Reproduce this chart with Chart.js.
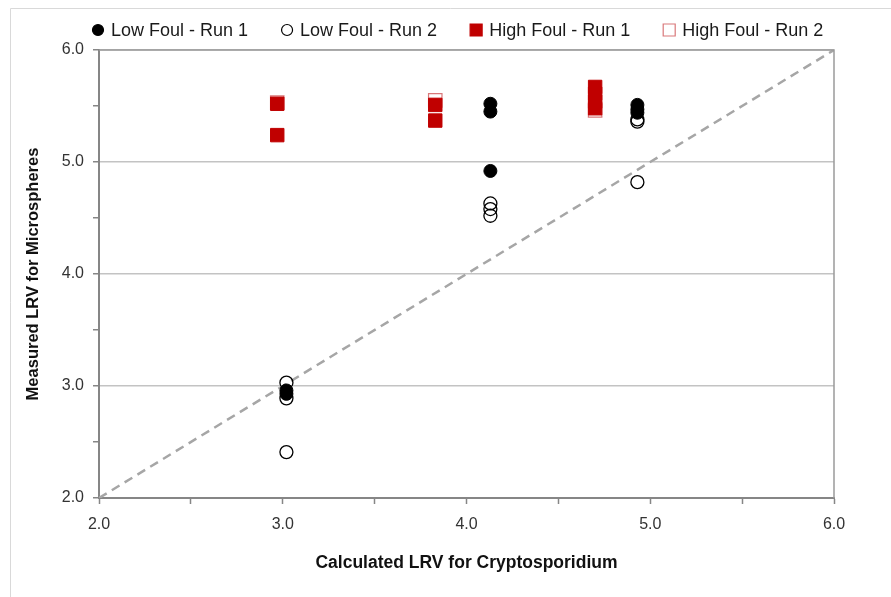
<!DOCTYPE html>
<html>
<head>
<meta charset="utf-8">
<script src="https://cdn.jsdelivr.net/npm/chart.js@4/dist/chart.umd.min.js"></script>
<style>
html,body{margin:0;padding:0;background:#fff;}
#wrap{width:891px;height:597px;position:relative;}
</style>
</head>
<body>
<div id="wrap"><canvas id="c" width="891" height="597"></canvas></div>
<script>
// ---- data ----
const seriesNames = ['Low Foul - Run 1', 'Low Foul - Run 2', 'High Foul - Run 1', 'High Foul - Run 2'];

const lowRun1X  = [3.02, 3.02, 4.13, 4.13, 4.13, 4.93, 4.93, 4.93];
const lowRun1Y  = [2.96, 2.93, 5.52, 5.45, 4.92, 5.51, 5.47, 5.44];

const lowRun2X  = [3.02, 3.02, 3.02, 4.13, 4.13, 4.13, 4.93, 4.93, 4.93];
const lowRun2Y  = [3.03, 2.89, 2.41, 4.63, 4.58, 4.52, 5.38, 5.36, 4.82];

const highRun1X = [2.97, 2.97, 3.83, 3.83, 4.70, 4.70, 4.70, 4.70];
const highRun1Y = [5.52, 5.24, 5.51, 5.37, 5.67, 5.61, 5.54, 5.48];

const highRun2X = [2.97, 3.83, 4.70];
const highRun2Y = [5.53, 5.55, 5.46];

const diagX = [2.0, 6.0];
const diagY = [2.0, 6.0];

const xTickLabels = ['2.0', '3.0', '4.0', '5.0', '6.0'];
const yTickLabels = ['2.0', '3.0', '4.0', '5.0', '6.0'];
const xTitle = 'Calculated LRV for Cryptosporidium';
const yTitle = 'Measured LRV for Microspheres';

// ---- helpers ----
const pts = (xs, ys) => xs.map((x, i) => ({x: x, y: ys[i]}));
const FONT = '"Liberation Sans", Arial, sans-serif';
const AXIS = '#868686';

function tickLabel(labels) {
  return function (v) {
    const s = Number(v).toFixed(1);
    return labels.indexOf(s) >= 0 && Number.isInteger(Number(v)) ? s : '';
  };
}

// custom legend (drawn on the canvas)
const legendPlugin = {
  id: 'customLegend',
  afterDraw(chart) {
    const ctx = chart.ctx;
    ctx.save();
    ctx.font = '18px ' + FONT;
    ctx.textBaseline = 'middle';
    ctx.textAlign = 'left';
    let mx = 98;
    const cy = 30;
    chart.data.datasets.forEach(ds => {
      if (seriesNames.indexOf(ds.label) < 0) return;
      ctx.lineWidth = 1.2;
      ctx.strokeStyle = ds.borderColor;
      ctx.fillStyle = ds.backgroundColor;
      ctx.beginPath();
      if (ds.pointStyle === 'rect') {
        ctx.rect(mx - 6, cy - 6, 12, 12);
      } else {
        ctx.arc(mx, cy, 5.5, 0, Math.PI * 2);
      }
      ctx.fill();
      ctx.stroke();
      ctx.fillStyle = '#1a1a1a';
      const tx = mx + 13;
      ctx.fillText(ds.label, tx, cy + 1);
      mx = tx + ctx.measureText(ds.label).width + 39;
    });
    ctx.restore();
  }
};

// plot frame (top/right) and outer chart frame
const framePlugin = {
  id: 'frame',
  beforeDraw(chart) {
    const ctx = chart.ctx;
    ctx.save();
    ctx.strokeStyle = '#d9d9d9';
    ctx.lineWidth = 1;
    ctx.beginPath();
    ctx.moveTo(10.5, 597);
    ctx.lineTo(10.5, 8.5);
    ctx.lineTo(891, 8.5);
    ctx.stroke();
    ctx.restore();
  },
  afterDatasetsDraw(chart) {
    const a = chart.chartArea;
    const ctx = chart.ctx;
    ctx.save();
    ctx.strokeStyle = '#9a9a9a';
    ctx.lineWidth = 1.5;
    ctx.beginPath();
    ctx.moveTo(a.left, a.top);
    ctx.lineTo(a.right, a.top);
    ctx.lineTo(a.right, a.bottom);
    ctx.stroke();
    ctx.restore();
  }
};

new Chart(document.getElementById('c'), {
  type: 'scatter',
  data: {
    datasets: [
      {
        label: seriesNames[0], data: pts(lowRun1X, lowRun1Y),
        pointStyle: 'circle', pointRadius: 6.5, pointHoverRadius: 6.5,
        backgroundColor: '#000000', borderColor: '#000000', borderWidth: 1
      },
      {
        label: seriesNames[1], data: pts(lowRun2X, lowRun2Y),
        pointStyle: 'circle', pointRadius: 6.5, pointHoverRadius: 6.5,
        backgroundColor: 'rgba(255,255,255,0)', borderColor: '#000000', borderWidth: 1.3
      },
      {
        label: seriesNames[2], data: pts(highRun1X, highRun1Y),
        pointStyle: 'rect', pointRadius: 9.5, pointHoverRadius: 9.5,
        backgroundColor: '#c00000', borderColor: '#c00000', borderWidth: 1
      },
      {
        label: seriesNames[3], data: pts(highRun2X, highRun2Y),
        pointStyle: 'rect', pointRadius: 9.5, pointHoverRadius: 9.5,
        backgroundColor: '#ffffff', borderColor: '#d9787a', borderWidth: 1.2
      },
      {
        label: '1:1', data: pts(diagX, diagY), type: 'line', showLine: true,
        pointRadius: 0, borderColor: '#a6a6a6', borderWidth: 2.5, borderDash: [9, 6],
        fill: false
      }
    ]
  },
  options: {
    responsive: false,
    animation: false,
    devicePixelRatio: 1,
    layout: {padding: {left: 10, right: 57, top: 50, bottom: 20}},
    plugins: {
      legend: {display: false},
      tooltip: {enabled: false}
    },
    scales: {
      x: {
        type: 'linear', min: 2, max: 6,
        afterFit: s => { s.height = 79; },
        ticks: {
          stepSize: 0.5, autoSkip: false, maxRotation: 0,
          callback: tickLabel(xTickLabels),
          color: '#333333', font: {family: FONT, size: 16}, padding: 11
        },
        grid: {drawOnChartArea: false, tickLength: 6, tickColor: AXIS, tickWidth: 1.5},
        border: {color: AXIS, width: 2},
        title: {
          display: true, text: xTitle, color: '#111111',
          font: {family: FONT, size: 17.5, weight: 'bold'}, padding: {top: 10, bottom: 3}
        }
      },
      y: {
        type: 'linear', min: 2, max: 6,
        afterFit: s => { s.width = 89; },
        ticks: {
          stepSize: 0.5, autoSkip: false,
          callback: tickLabel(yTickLabels),
          color: '#333333', font: {family: FONT, size: 16}, padding: 9
        },
        grid: {
          color: c => (c.tick && Number.isInteger(c.tick.value) && c.tick.value > 2) ? '#c3c3c3' : 'rgba(0,0,0,0)',
          lineWidth: 1.5, tickLength: 6, tickColor: AXIS, tickWidth: 1.5
        },
        border: {color: AXIS, width: 2},
        title: {
          display: true, text: yTitle, color: '#111111',
          font: {family: FONT, size: 16.5, weight: 'bold'}, padding: {top: 14, bottom: 4}
        }
      }
    }
  },
  plugins: [legendPlugin, framePlugin]
});
</script>
</body>
</html>
